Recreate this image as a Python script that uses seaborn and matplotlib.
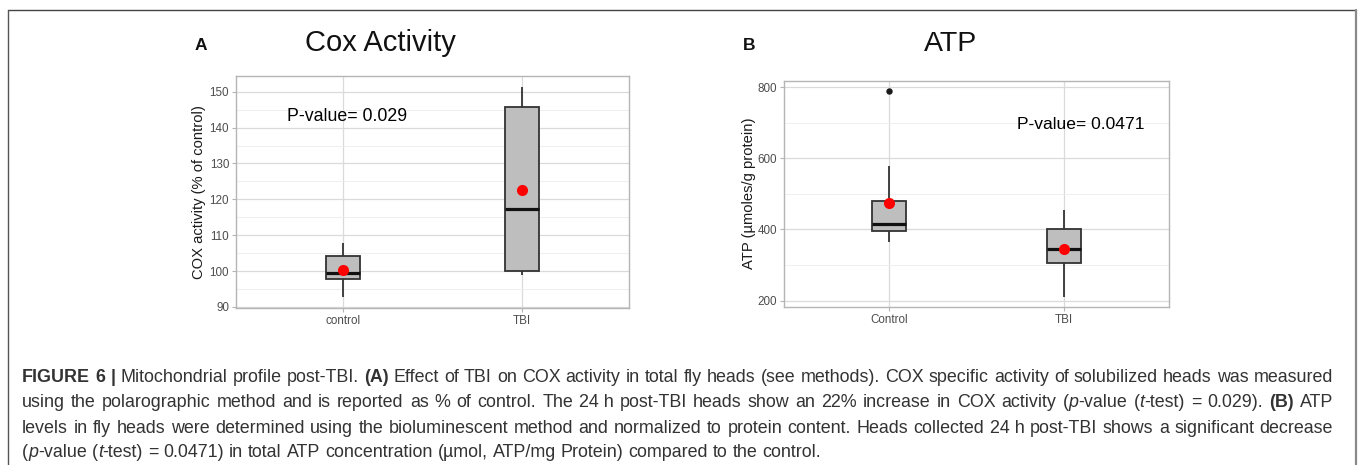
import numpy as np
import pandas as pd
import matplotlib
matplotlib.use("Agg")
import matplotlib.pyplot as plt
from matplotlib.lines import Line2D
from matplotlib.ticker import MultipleLocator
import seaborn as sns

# ---------------- data ----------------
cox_groups = ["control", "TBI"]
cox_control = [92.7, 97.9, 99.4, 104.1, 107.7]
cox_tbi = [98.9, 100.0, 117.3, 145.8, 151.4]

atp_groups = ["Control", "TBI"]
atp_control = [366, 380, 396, 405, 416, 450, 480, 578, 790]
atp_tbi = [211, 306, 345, 401, 456]

cox_title = "Cox Activity"
atp_title = "ATP"
cox_ylabel = "COX activity (% of control)"
atp_ylabel = "ATP (µmoles/g protein)"
cox_pvalue = "P-value= 0.029"
atp_pvalue = "P-value= 0.0471"
cox_ticks = [90, 100, 110, 120, 130, 140, 150]
atp_ticks = [200, 400, 600, 800]

caption_lines = [
    "*FIGURE 6 |* Mitochondrial profile post-TBI. *(A)* Effect of TBI on COX activity in total fly heads (see methods). COX specific activity of solubilized heads was measured",
    "using the polarographic method and is reported as % of control. The 24~h post-TBI heads show an 22% increase in COX activity (_p_-value (_t_-test) = 0.029). *(B)* ATP",
    "levels in fly heads were determined using the bioluminescent method and normalized to protein content. Heads collected 24~h post-TBI shows a significant decrease",
    "(_p_-value (_t_-test) = 0.0471) in total ATP concentration (µmol, ATP/mg Protein) compared to the control.",
]

# ---------------- style ----------------
sns.set_theme(style="whitegrid")
plt.rcParams["font.family"] = ["Liberation Sans", "DejaVu Sans"]

W, H = 1358, 465
fig = plt.figure(figsize=(W / 100, H / 100), dpi=100)
fig.patch.set_facecolor("white")


def fx(x):
    return x / W


def fy(y):
    return 1 - y / H


def style_axes(ax, ticks, minor_step, ylim):
    ax.set_xlim(-0.6, 1.6)
    ax.set_ylim(*ylim)
    ax.set_yticks(ticks)
    ax.yaxis.set_minor_locator(MultipleLocator(minor_step))
    ax.set_axisbelow(True)
    ax.grid(False)
    ax.yaxis.grid(True, which="major", color="#DADADA", linewidth=0.9)
    ax.yaxis.grid(True, which="minor", color="#EDEDED", linewidth=0.6)
    ax.xaxis.grid(True, which="major", color="#DADADA", linewidth=0.9)
    for s in ax.spines.values():
        s.set_visible(True)
        s.set_color("#B5B5B5")
        s.set_linewidth(1.0)
    ax.tick_params(axis="both", which="major", length=3, width=0.8, color="#B5B5B5",
                   labelcolor="#4D4D4D", labelsize=8.4, pad=2, left=True, bottom=True)
    ax.tick_params(axis="y", which="minor", length=0)
    ax.set_xlabel("")
    ax.set_facecolor("white")


def draw_panel(ax, groups, ctrl, tbi):
    df = pd.DataFrame({
        "group": [groups[0]] * len(ctrl) + [groups[1]] * len(tbi),
        "value": list(ctrl) + list(tbi),
    })
    sns.boxplot(data=df, x="group", y="value", order=groups, ax=ax,
                color="#BEBEBE", saturation=1, width=0.19, linecolor="#333333",
                linewidth=1.3, whis=1.5,
                medianprops=dict(color="#111111", linewidth=2.3),
                capprops=dict(linewidth=0),
                flierprops=dict(marker="o", markerfacecolor="#1A1A1A",
                                markeredgecolor="#1A1A1A", markersize=3.6))
    n_before = len(ax.lines)
    sns.pointplot(data=df, x="group", y="value", order=groups, ax=ax,
                  estimator="mean", errorbar=None, color="#FF0000",
                  marker="o", linestyle="none", markersize=8)
    for ln in ax.lines[n_before:]:
        ln.set_zorder(10)
        ln.set_markeredgewidth(0)


# Panel A
axA = fig.add_axes([fx(236), fy(308), fx(629) - fx(236), fy(76) - fy(308)])
draw_panel(axA, cox_groups, cox_control, cox_tbi)
style_axes(axA, cox_ticks, 5, (89.7, 154.4))
axA.set_ylabel(cox_ylabel, fontsize=10.6, color="#1A1A1A")
axA.yaxis.label.set_rotation_mode("default")
axA.yaxis.label.set_va("center")
axA.yaxis.label.set_ha("center")
axA.yaxis.set_label_coords((199.3 - 236) / 393, 0.5)
axA.text(-0.314, 143.2, cox_pvalue, fontsize=12.8, color="black", va="center", ha="left")

# Panel B
axB = fig.add_axes([fx(784), fy(306.7), fx(1169) - fx(784), fy(80.7) - fy(306.7)])
draw_panel(axB, atp_groups, atp_control, atp_tbi)
style_axes(axB, atp_ticks, 100, (183, 818))
axB.set_ylabel(atp_ylabel, fontsize=10.6, color="#1A1A1A")
axB.yaxis.label.set_rotation_mode("default")
axB.yaxis.label.set_va("center")
axB.yaxis.label.set_ha("center")
axB.yaxis.set_label_coords((749.3 - 784) / 385, 0.5)
axB.text(0.73, 696, atp_pvalue, fontsize=12.6, color="black", va="center", ha="left")

# Titles and panel letters
fig.text(fx(380), fy(50.7), cox_title, fontsize=21, ha="center", va="baseline", color="#111111")
fig.text(fx(950.5), fy(50.7), atp_title, fontsize=20.5, ha="center", va="baseline", color="#111111")
fig.text(fx(195), fy(50), "A", fontsize=12.5, fontweight="bold", ha="left", va="baseline", color="#111111")
fig.text(fx(743), fy(50), "B", fontsize=12.5, fontweight="bold", ha="left", va="baseline", color="#111111")

# Frame lines
fig.add_artist(Line2D([fx(8), fx(1356)], [fy(10), fy(10)], color="#444444", linewidth=1.0))
fig.add_artist(Line2D([fx(8), fx(8)], [fy(10), fy(470)], color="#555555", linewidth=1.0))
fig.add_artist(Line2D([fx(1355.5), fx(1355.5)], [fy(10), fy(470)], color="#8A8A8A", linewidth=1.6))

# ---------------- caption ----------------
cap_font = ["Liberation Sans", "DejaVu Sans"]
cap_color = "#333333"


def parse(line):
    words = []
    cur = []
    seg = ""
    bold = False
    ital = False

    def flush_seg():
        nonlocal seg
        if seg:
            cur.append((seg, bold, ital))
        seg = ""

    for ch in line:
        if ch == "*":
            flush_seg()
            bold = not bold
        elif ch == "_":
            flush_seg()
            ital = not ital
        elif ch == " ":
            flush_seg()
            if cur:
                words.append(cur)
            cur = []
        elif ch == "~":
            seg += " "
        else:
            seg += ch
    flush_seg()
    if cur:
        words.append(cur)
    return words


renderer = fig.canvas.get_renderer()


def make_text(s, b, i, fs):
    return fig.text(0, 0, s, fontsize=fs, family=cap_font,
                    fontweight=("bold" if b else "normal"),
                    fontstyle=("italic" if i else "normal"),
                    color=cap_color, ha="left", va="baseline")


def measure(s, b, i, fs):
    t = make_text(s, b, i, fs)
    w = t.get_window_extent(renderer).width
    t.remove()
    return w


def word_width(word, fs):
    return sum(measure(s, b, i, fs) for s, b, i in word)


parsed = [parse(l) for l in caption_lines]

x_left, x_right = 22, 1333
fs0 = 10.0
sp0 = measure("n n", False, False, fs0) - measure("nn", False, False, fs0)
w1 = sum(word_width(w, fs0) for w in parsed[0]) + sp0 * (len(parsed[0]) - 1)
cap_fs = fs0 * (x_right - x_left) / w1
space_w = sp0 * cap_fs / fs0

baselines = [381.5, 407.2, 432.6, 457.0]
for li, words in enumerate(parsed):
    widths = [word_width(w, cap_fs) for w in words]
    if li < 3:
        gap = (x_right - x_left - sum(widths)) / (len(words) - 1)
    else:
        gap = space_w
    x = x_left
    for w, ww in zip(words, widths):
        xx = x
        for s, b, i in w:
            t = make_text(s, b, i, cap_fs)
            t.set_position((fx(xx), fy(baselines[li])))
            xx += t.get_window_extent(renderer).width
        x += ww + gap

fig.savefig("out.png", dpi=100, facecolor="white")
